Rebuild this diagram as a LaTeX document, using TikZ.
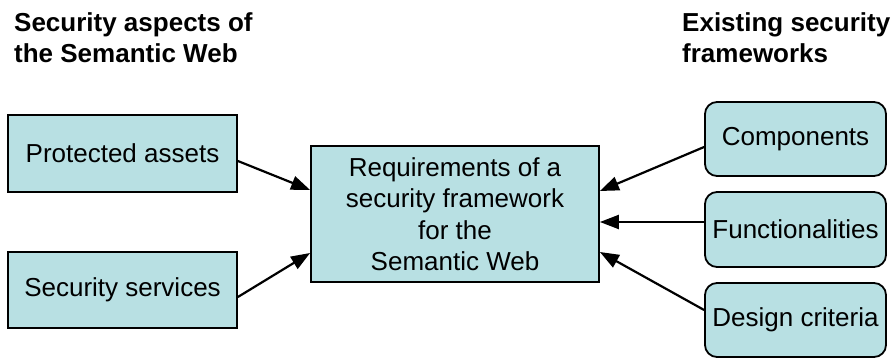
\documentclass[tikz,border=0pt]{standalone}
\usepackage{fontspec}
\setmainfont{Liberation Sans}
\usetikzlibrary{arrows.meta}
\definecolor{boxfill}{RGB}{184,224,227}
\tikzset{
  box/.style={draw=black, line width=1.8pt, fill=boxfill, inner sep=2pt,
    align=center, font=\fontsize{26}{31.5}\selectfont},
  rbox/.style={box, rounded corners=12pt},
  title/.style={anchor=north west, inner sep=0pt, align=left,
    font=\fontsize{26}{31.5}\selectfont\bfseries},
  conn/.style={line width=2.2pt, -{Triangle[length=19pt,width=14pt]}}
}
\begin{document}
\begin{tikzpicture}[x=1pt, y=-1pt]
\useasboundingbox (0,0) rectangle (895,358);
\node[title] (t1) at (14,12) {Security aspects of\\the Semantic Web};
\node[title] (t2) at (682,12) {Existing security\\frameworks};
\node[box, minimum width=229pt, minimum height=77pt] (pa) at (122.5,153.5) {Protected assets};
\node[box, minimum width=229pt, minimum height=76pt] (ss) at (122.5,290) {Security services};
\node[box, minimum width=288pt, minimum height=136pt] (req) at (455,214)
  {Requirements of a\\security framework\\for the\\Semantic Web};
\node[rbox, minimum width=181pt, minimum height=74pt] (comp) at (795.5,139) {Components};
\node[rbox, minimum width=181pt, minimum height=75pt] (func) at (795.5,229.5) {Functionalities};
\node[rbox, minimum width=181pt, minimum height=74pt] (des) at (795.5,320) {Design criteria};
\draw[conn] ([yshift=-7.5pt]pa.east) -- ([yshift=24pt]req.west);
\draw[conn] ([yshift=-7pt]ss.east) -- ([yshift=-39pt]req.west);
\draw[conn] ([yshift=-8pt]comp.west) -- ([yshift=23pt]req.east);
\draw[conn] ([yshift=7.5pt]func.west) -- ([yshift=-8pt]req.east);
\draw[conn] ([yshift=10pt]des.west) -- ([yshift=-38pt]req.east);
\end{tikzpicture}
\end{document}
